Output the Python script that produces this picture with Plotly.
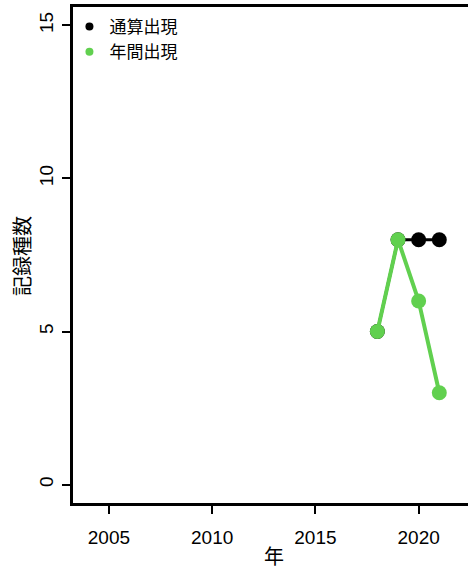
import plotly.graph_objects as go

years = [2018, 2019, 2020, 2021]
cumulative = [5, 8, 8, 8]      # 通算出現
annual = [5, 8, 6, 3]          # 年間出現
x_ticks = [2005, 2010, 2015, 2020]
y_ticks = [0, 5, 10, 15]
x_title = "年"
y_title = "記録種数"

BLACK = "#000000"
GREEN = "#61D04F"
FONT = "Liberation Sans, Arial, Noto Sans CJK JP, sans-serif"

fig = go.Figure()
fig.add_trace(go.Scatter(x=years, y=cumulative, mode="lines+markers",
                         line=dict(color=BLACK, width=3),
                         marker=dict(color=BLACK, size=15), showlegend=False))
fig.add_trace(go.Scatter(x=years, y=annual, mode="lines+markers",
                         line=dict(color=GREEN, width=4),
                         marker=dict(color=GREEN, size=15), showlegend=False))
# legend entries
fig.add_trace(go.Scatter(x=[None], y=[None], mode="markers", name="通算出現",
                         marker=dict(color=BLACK, size=8)))
fig.add_trace(go.Scatter(x=[None], y=[None], mode="markers", name="年間出現",
                         marker=dict(color=GREEN, size=8)))

fig.update_layout(
    width=468, height=571,
    margin=dict(l=73, r=0, t=7, b=68, autoexpand=False),
    paper_bgcolor="white", plot_bgcolor="white",
    font=dict(family=FONT, size=19, color="black"),
    showlegend=True,
    legend=dict(x=-0.009, y=0.996, xanchor="left", yanchor="top",
                bgcolor="rgba(0,0,0,0)", font=dict(size=17),
                itemwidth=30, tracegroupgap=0),
    xaxis=dict(range=[2003.26, 2022.39], tickvals=x_ticks, automargin=False,
               showgrid=False, zeroline=False,
               showline=True, linecolor="black", linewidth=3, mirror=True,
               ticks="outside", ticklen=8, tickwidth=1.5, tickcolor="black",
               ticklabelstandoff=7),
    yaxis=dict(range=[-0.6, 15.6], tickvals=y_ticks, automargin=False,
               showgrid=False, zeroline=False,
               showline=True, linecolor="black", linewidth=3,
               ticks="outside", ticklen=8, tickwidth=1.5, tickcolor="black",
               tickangle=-90, ticklabelstandoff=1),
    annotations=[
        dict(text=x_title, xref="paper", yref="paper", x=(274 - 73) / 395,
             y=(503 - 557) / 496, xanchor="center", yanchor="middle",
             showarrow=False, font=dict(size=20)),
        dict(text=y_title, xref="paper", yref="paper", x=(23 - 73) / 395,
             y=(503 - 256) / 496, xanchor="center", yanchor="middle",
             textangle=-90, showarrow=False, font=dict(size=20)),
    ],
)

fig.write_html("out.html", config={"displayModeBar": False},
               post_script="document.body.style.margin='0';")
